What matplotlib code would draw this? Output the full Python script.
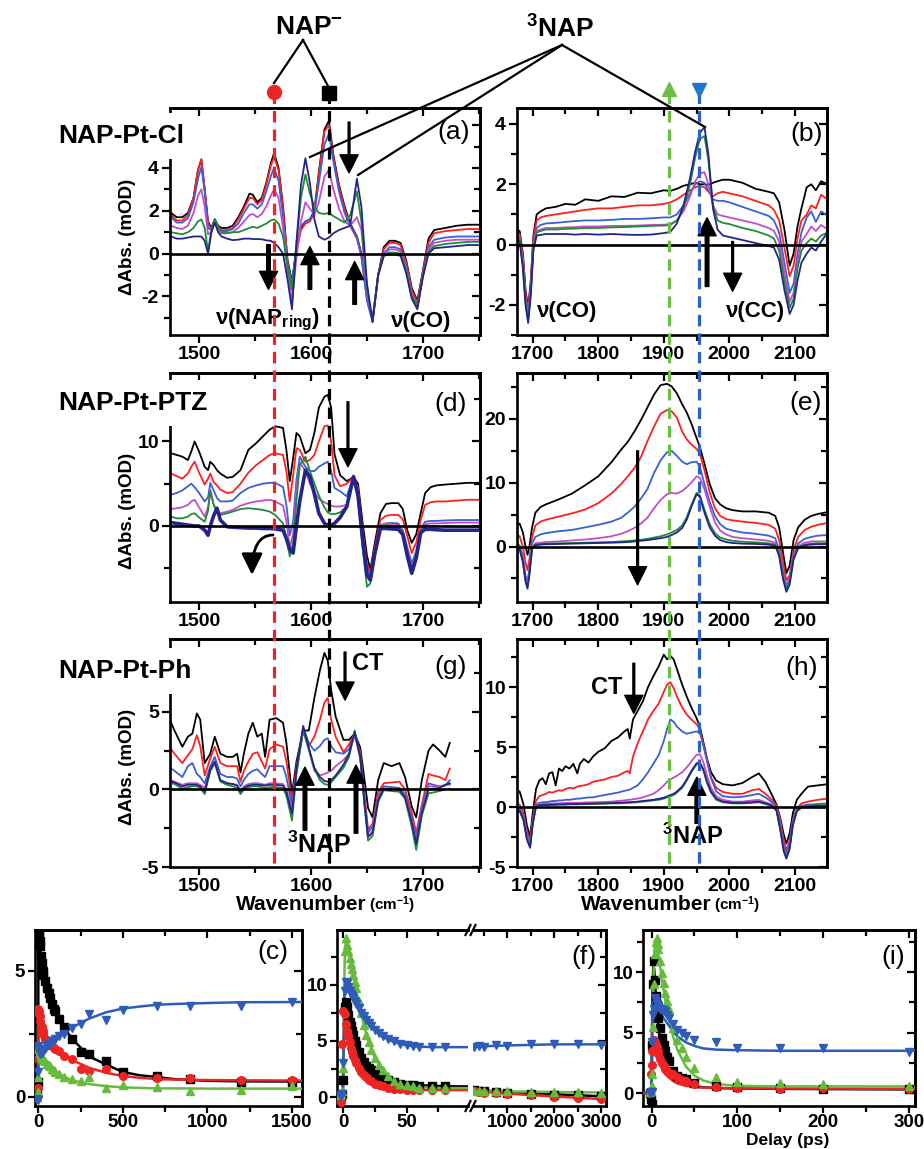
import matplotlib
matplotlib.use("Agg")
import matplotlib.pyplot as plt
from matplotlib.ticker import MultipleLocator, FixedLocator
from matplotlib.lines import Line2D
import matplotlib.transforms as mtransforms

plt.rcParams.update({
    'font.family': ['Liberation Sans', 'DejaVu Sans'],
    'font.weight': 'bold',
    'mathtext.fontset': 'custom',
    'mathtext.rm': 'Liberation Sans:bold',
    'mathtext.bf': 'Liberation Sans:bold',
    'mathtext.it': 'Liberation Sans:bold:italic',
    'mathtext.default': 'rm',
    'axes.unicode_minus': False,
})

# ---------------- spectra data ----------------
# panel (a): NAP-Pt-Cl, 1475-1750 cm-1
xa = [1475, 1480, 1485, 1490, 1495, 1499, 1502, 1505, 1508, 1511,
      1514, 1517, 1520, 1525, 1530, 1535, 1540, 1545, 1548, 1552,
      1556, 1560, 1564, 1567, 1571, 1575, 1579, 1583, 1587, 1591,
      1595, 1599, 1603, 1607, 1612, 1616, 1620, 1625, 1630, 1635,
      1641, 1645, 1650, 1655, 1660, 1665, 1670, 1675, 1680, 1685,
      1690, 1695, 1700, 1705, 1710, 1720, 1730, 1740, 1750]
a_black = [1.9, 1.7, 1.7, 1.9, 2.6, 3.9, 4.4, 3.0, 1.5, 1.2,
           1.6, 1.3, 1.2, 1.2, 1.3, 1.7, 2.2, 2.8, 2.75, 2.4,
           2.6, 3.3, 4.2, 4.7, 4.0, 2.2, -0.3, -1.3, 0.2, 1.2,
           1.5, 1.6, 2.0, 3.8, 5.8, 6.2, 4.6, 3.2, 2.2, 1.4,
           0.8, 0.0, -2.0, -3.1, -1.0, 0.3, 0.6, 0.6, 0.5, -0.3,
           -1.6, -2.2, -0.8, 0.7, 1.1, 1.2, 1.3, 1.35, 1.35]
a_red = [1.8, 1.55, 1.55, 1.8, 2.6, 3.9, 4.4, 3.0, 1.4, 1.15,
         1.55, 1.25, 1.1, 1.1, 1.2, 1.6, 2.1, 2.6, 2.6, 2.3,
         2.5, 3.2, 4.1, 4.5, 3.9, 2.1, -0.4, -1.4, 0.1, 1.1,
         1.4, 1.5, 1.9, 3.7, 5.7, 6.0, 4.5, 3.1, 2.1, 1.3,
         0.7, -0.1, -2.1, -3.1, -1.0, 0.2, 0.5, 0.5, 0.4, -0.4,
         -1.7, -2.3, -0.9, 0.5, 0.95, 1.05, 1.1, 1.15, 1.15]
a_blue = [1.7, 1.45, 1.45, 1.65, 2.4, 3.5, 4.05, 2.9, 1.2, 1.1,
          1.6, 1.2, 1.05, 1.05, 1.15, 1.4, 1.9, 2.3, 2.3, 2.1,
          2.3, 2.9, 3.6, 4.0, 3.4, 1.7, -0.5, -1.4, 0.3, 1.3,
          1.5, 1.6, 1.9, 3.3, 5.1, 5.6, 4.3, 2.9, 1.9, 1.3,
          0.8, -0.1, -2.2, -3.2, -1.0, 0.0, 0.3, 0.3, 0.2, -0.6,
          -1.9, -2.5, -1.0, 0.3, 0.65, 0.75, 0.8, 0.8, 0.8]
a_magenta = [1.3, 1.2, 1.15, 1.3, 1.9, 2.7, 3.0, 2.2, 0.9, 1.0,
             1.5, 1.1, 0.95, 0.95, 1.0, 1.2, 1.5, 1.8, 1.85, 1.7,
             1.85, 2.2, 2.7, 3.0, 2.6, 1.2, -0.8, -2.2, -0.2, 1.5,
             2.4, 2.1, 1.8, 2.4, 3.6, 3.9, 3.0, 2.1, 1.5, 1.3,
             1.7, 1.1, -1.8, -3.1, -1.0, -0.1, 0.2, 0.2, 0.1, -0.7,
             -2.0, -2.5, -1.0, 0.2, 0.5, 0.6, 0.65, 0.65, 0.65]
a_green = [1.0, 0.95, 0.9, 1.0, 1.2, 1.5, 1.6, 1.2, 0.1, 1.1,
           1.6, 1.2, 1.0, 0.95, 1.0, 1.0, 1.1, 1.2, 1.25, 1.2,
           1.3, 1.4, 1.55, 1.6, 1.4, 0.8, -0.6, -1.7, 0.5, 2.6,
           3.7, 2.8, 2.2, 1.9, 1.85, 1.9, 1.75, 1.6, 1.45, 1.8,
           2.9, 1.5, -1.6, -3.1, -1.0, -0.1, 0.05, 0.05, 0.0, -0.8,
           -2.0, -2.4, -1.0, 0.1, 0.35, 0.45, 0.5, 0.55, 0.55]
a_navy = [0.8, 0.7, 0.7, 0.75, 0.8, 0.8, 0.8, 0.6, 0.0, 1.0,
          1.45, 1.0, 0.8, 0.7, 0.63, 0.65, 0.7, 0.7, 0.68, 0.68,
          0.67, 0.62, 0.6, 0.5, 0.3, 0.0, -1.2, -2.6, 0.5, 3.2,
          4.45, 3.3, 1.6, 0.8, 0.65, 0.75, 0.95, 1.1, 1.2, 1.3,
          3.5, 2.2, -1.4, -3.2, -1.0, -0.1, -0.05, -0.05, -0.1, -0.9,
          -2.1, -2.6, -1.1, 0.0, 0.25, 0.3, 0.35, 0.4, 0.4]

# panel (b): NAP-Pt-Cl, 1675-2150 cm-1
xb = [1675, 1680, 1685, 1689, 1693, 1697, 1701, 1706, 1712, 1720,
      1735, 1750, 1765, 1780, 1800, 1820, 1840, 1860, 1880, 1900,
      1910, 1920, 1930, 1940, 1948, 1955, 1962, 1968, 1975, 1982,
      1990, 2000, 2020, 2040, 2060, 2068, 2076, 2084, 2092, 2098,
      2104, 2110, 2118, 2125, 2132, 2140, 2150]
b_black = [0.5, 0.45, -0.3, -1.5, -2.1, -1.2, 0.3, 1.0, 1.1, 1.2,
           1.25, 1.35, 1.32, 1.5, 1.45, 1.6, 1.58, 1.72, 1.7, 1.8,
           1.78, 1.85, 1.95, 2.0, 2.05, 2.0, 2.0, 1.98, 2.05, 2.1,
           2.15, 2.15, 2.05, 1.85, 1.75, 1.7, 1.4, 0.5, -0.7, -0.3,
           0.6, 1.2, 1.9, 2.0, 1.8, 2.1, 2.0]
b_red = [0.4, 0.35, -0.4, -1.6, -2.2, -1.3, 0.2, 0.8, 0.9, 0.95,
         1.0, 1.05, 1.1, 1.15, 1.2, 1.2, 1.25, 1.3, 1.3, 1.35,
         1.4, 1.5, 1.65, 1.8, 1.9, 1.95, 1.9, 1.75, 1.6, 1.7,
         1.75, 1.7, 1.6, 1.45, 1.3, 1.15, 0.8, -0.1, -1.05, -0.7,
         0.2, 0.8, 1.0, 1.3, 1.2, 1.65, 1.5]
b_blue = [0.2, 0.15, -0.6, -1.8, -2.4, -1.5, 0.0, 0.55, 0.65, 0.7,
          0.72, 0.75, 0.78, 0.8, 0.8, 0.82, 0.85, 0.85, 0.87, 0.9,
          0.9, 1.0, 1.3, 1.7, 2.0, 2.1, 2.05, 1.8, 1.5, 1.45,
          1.45, 1.4, 1.25, 1.1, 0.95, 0.8, 0.4, -0.6, -1.6, -1.3,
          -0.3, 0.4, 0.9, 1.1, 0.75, 1.1, 0.95]
b_magenta = [0.3, 0.25, -0.6, -1.8, -2.4, -1.5, 0.0, 0.45, 0.5, 0.55,
             0.55, 0.57, 0.58, 0.6, 0.6, 0.62, 0.62, 0.63, 0.65, 0.66,
             0.68, 0.8, 1.1, 1.6, 2.1, 2.35, 2.4, 2.0, 1.3, 1.0,
             0.95, 0.9, 0.8, 0.7, 0.55, 0.45, 0.1, -0.9, -1.9, -1.6,
             -0.6, 0.1, 0.35, 0.6, 0.45, 0.65, 0.5]
b_green = [0.25, 0.2, -0.7, -1.9, -2.5, -1.6, -0.1, 0.4, 0.45, 0.5,
           0.5, 0.52, 0.53, 0.55, 0.55, 0.57, 0.58, 0.6, 0.62, 0.63,
           0.65, 0.8, 1.2, 2.0, 2.9, 3.5, 3.6, 2.8, 1.3, 0.8,
           0.72, 0.68, 0.55, 0.45, 0.3, 0.2, -0.2, -1.2, -2.1, -1.8,
           -0.8, -0.2, 0.05, 0.2, 0.1, 0.3, 0.4]
b_navy = [0.15, 0.1, -0.8, -2.0, -2.6, -1.7, -0.2, 0.3, 0.32, 0.35,
          0.35, 0.35, 0.33, 0.35, 0.33, 0.35, 0.33, 0.32, 0.33, 0.38,
          0.42, 0.7, 1.3, 2.2, 3.1, 3.7, 3.9, 3.0, 1.2, 0.5,
          0.3, 0.25, 0.15, 0.05, -0.05, -0.1, -0.5, -1.5, -2.3, -2.0,
          -1.2, -0.6, -0.3, -0.1, -0.2, 0.1, 0.4]

# panel (d): NAP-Pt-PTZ, 1475-1750 cm-1
xd = [1475, 1480, 1485, 1490, 1493, 1496, 1500, 1505, 1508, 1510,
      1513, 1516, 1519, 1525, 1530, 1537, 1544, 1551, 1557, 1563,
      1568, 1575, 1578, 1581, 1584, 1587, 1590, 1595, 1599, 1603,
      1607, 1612, 1615, 1618, 1621, 1626, 1632, 1638, 1642, 1646,
      1650, 1653, 1657, 1662, 1667, 1672, 1678, 1682, 1686, 1690,
      1694, 1698, 1702, 1707, 1712, 1720, 1730, 1740, 1750]
d_black = [8.6, 8.4, 8.2, 7.8, 8.8, 10.0, 8.8, 7.0, 6.6, 7.6,
           7.2, 6.6, 6.2, 5.7, 5.8, 6.6, 9.0, 9.8, 10.6, 11.4,
           11.8, 11.6, 9.0, 5.3, 8.0, 11.0, 10.6, 8.6, 9.0, 11.0,
           14.0, 15.3, 15.5, 14.0, 8.5, 6.0, 5.3, 5.8, 5.0, 0.5,
           -3.5, -5.2, -2.0, 1.5, 2.6, 2.7, 2.7, 2.0, -0.5, -2.0,
           -1.0, 1.5, 3.9, 4.6, 4.8, 4.9, 5.0, 5.1, 5.1]
d_red = [6.2, 5.9, 5.6, 6.2, 7.0, 7.6, 6.3, 4.9, 5.6, 6.2,
         5.2, 4.8, 4.3, 3.9, 4.0, 5.0, 6.3, 7.2, 7.8, 8.4,
         8.6, 8.4, 6.5, 2.9, 6.0, 9.2, 9.0, 7.6, 7.8, 8.4,
         10.0, 11.8, 11.9, 10.0, 6.0, 4.7, 5.0, 5.85, 4.5, -0.5,
         -4.5, -5.6, -2.5, 0.7, 1.2, 1.3, 1.3, 0.8, -1.2, -3.2,
         -2.0, 0.7, 2.5, 2.8, 2.9, 2.9, 3.0, 3.1, 3.1]
d_blue = [3.7, 3.9, 4.2, 4.7, 5.0, 4.6, 3.9, 2.9, 3.4, 5.1,
          4.2, 3.3, 2.9, 2.9, 3.0, 3.9, 4.5, 4.8, 5.0, 5.1,
          5.1, 4.6, 2.5, -1.1, 0.5, 5.5, 8.2, 7.0, 6.5, 6.5,
          7.0, 7.4, 7.6, 6.5, 4.5, 4.1, 3.5, 5.85, 4.2, -1.0,
          -5.0, -6.0, -3.0, 0.1, 0.3, 0.35, 0.3, -0.5, -2.5, -4.4,
          -3.0, -0.3, 0.5, 0.6, 0.6, 0.65, 0.7, 0.7, 0.7]
d_magenta = [2.0, 2.1, 2.2, 2.5, 2.9, 3.1, 2.2, 1.1, 2.2, 4.3,
             2.6, 1.7, 1.5, 1.7, 1.9, 2.4, 2.7, 2.9, 3.0, 3.1,
             2.9, 2.4, 0.5, -2.5, -1.0, 4.5, 7.5, 6.5, 5.0, 4.0,
             3.2, 2.8, 2.6, 2.4, 2.3, 2.3, 2.5, 5.85, 4.0, -1.5,
             -5.5, -6.4, -3.2, 0.0, 0.3, 0.2, 0.1, -0.6, -2.8, -4.8,
             -3.2, -0.4, 0.2, 0.3, 0.3, 0.35, 0.4, 0.4, 0.4]
d_green = [1.1, 0.9, 0.9, 1.1, 1.4, 1.5, 1.0, 0.5, 1.8, 4.1,
           2.5, 1.5, 1.3, 1.5, 1.7, 2.0, 2.1, 2.0, 1.9, 1.7,
           1.3, 0.3, -1.5, -3.6, -2.0, 3.0, 7.2, 8.2, 6.5, 5.0,
           3.6, 2.2, 1.6, 1.4, 1.4, 1.6, 2.3, 5.85, 3.5, -2.5,
           -7.2, -6.8, -3.5, -0.2, 0.1, 0.0, -0.1, -0.8, -3.0, -5.0,
           -3.4, -0.6, 0.0, 0.0, 0.0, -0.05, -0.1, -0.1, -0.1]
d_navy = [0.4, 0.3, 0.2, 0.1, 0.05, 0.0, 0.0, -0.5, -1.1, 0.0,
          1.2, 2.1, 0.7, -0.1, -0.15, -0.2, -0.25, -0.25, -0.3, -0.3,
          -0.35, -0.5, -1.5, -2.8, -3.2, 0.0, 3.0, 6.6, 5.8, 3.8,
          1.5, 0.3, 0.1, 0.1, 0.3, 1.0, 2.3, 5.85, 3.6, -1.5,
          -5.8, -6.4, -3.3, -0.3, -0.3, -0.35, -0.4, -1.0, -3.5, -5.6,
          -3.8, -0.8, -0.4, -0.4, -0.45, -0.5, -0.5, -0.5, -0.5]

# panel (e): NAP-Pt-PTZ, 1675-2150 cm-1
xe = [1675, 1680, 1685, 1689, 1692, 1695, 1699, 1704, 1712, 1720,
      1740, 1760, 1780, 1800, 1820, 1835, 1845, 1855, 1865, 1875,
      1885, 1895, 1905, 1912, 1920, 1928, 1935, 1942, 1950, 1955,
      1962, 1970, 1978, 1986, 1995, 2005, 2020, 2040, 2060, 2070,
      2076, 2082, 2087, 2092, 2098, 2105, 2115, 2125, 2135, 2150]
e_black = [3.4, 3.6, 2.2, 0.0, -1.3, 0.0, 3.0, 5.3, 6.2, 6.6,
           7.4, 8.3, 9.6, 11.0, 13.2, 15.2, 16.4, 18.0, 19.8, 21.8,
           23.8, 25.3, 25.5, 25.1, 24.0, 22.3, 21.0, 19.3, 17.0, 15.6,
           13.0, 9.8, 7.6, 6.6, 6.0, 5.7, 5.5, 5.5, 5.3, 4.8,
           3.0, -1.0, -4.2, -3.0, 1.0, 3.0, 4.2, 4.8, 5.1, 5.4]
e_red = [1.8, 1.6, 0.0, -2.5, -3.7, -2.0, 1.5, 3.3, 3.9, 4.2,
         4.7, 5.2, 5.8, 6.8, 8.3, 9.8, 11.0, 12.3, 14.0, 16.5,
         18.8, 20.8, 21.4, 21.2, 20.2, 18.0, 16.8, 16.0, 15.3, 14.5,
         12.0, 8.5, 6.0, 4.8, 4.3, 4.1, 3.9, 3.7, 3.4, 2.8,
         1.0, -2.5, -5.3, -4.5, -0.5, 1.5, 2.6, 3.1, 3.4, 3.7]
e_blue = [0.5, 0.2, -1.5, -4.5, -5.5, -3.5, 0.5, 1.5, 1.9, 2.1,
          2.4, 2.6, 3.0, 3.4, 3.9, 4.5, 5.3, 6.2, 7.5, 9.0,
          11.5, 13.5, 14.8, 15.0, 14.2, 13.3, 12.9, 13.2, 13.3, 12.5,
          9.8, 7.0, 4.8, 3.5, 2.8, 2.5, 2.2, 2.0, 1.7, 1.3,
          -0.5, -4.0, -6.1, -5.0, -1.2, 0.5, 1.2, 1.5, 1.7, 1.8]
e_magenta = [0.4, 0.0, -2.0, -5.0, -6.0, -4.0, 0.0, 0.5, 0.6, 0.7,
             0.8, 0.95, 1.1, 1.3, 1.6, 2.0, 2.4, 2.9, 3.6, 4.5,
             6.0, 7.3, 8.2, 8.4, 8.3, 8.7, 9.3, 10.0, 11.0, 10.8,
             9.0, 6.2, 3.8, 2.5, 1.9, 1.5, 1.3, 1.1, 0.9, 0.6,
             -1.0, -4.5, -6.3, -5.3, -1.5, 0.1, 0.6, 0.8, 0.8, 0.8]
e_green = [0.3, -0.1, -2.2, -5.3, -6.3, -4.2, -0.2, 0.3, 0.4, 0.45,
           0.5, 0.55, 0.6, 0.65, 0.7, 0.8, 0.85, 0.95, 1.05, 1.2,
           1.4, 1.6, 1.9, 2.2, 2.6, 3.3, 4.6, 6.5, 8.4, 8.0,
           5.8, 3.5, 2.1, 1.4, 1.1, 0.9, 0.75, 0.65, 0.5, 0.3,
           -1.2, -4.8, -6.6, -5.5, -1.8, -0.1, 0.3, 0.45, 0.5, 0.5]
e_navy = [-0.3, -0.5, -2.5, -5.5, -6.6, -4.4, -0.4, 0.2, 0.3, 0.35,
          0.4, 0.45, 0.5, 0.55, 0.6, 0.65, 0.7, 0.8, 0.9, 1.0,
          1.15, 1.3, 1.5, 1.8, 2.2, 2.9, 4.2, 6.2, 8.2, 7.8,
          5.3, 3.0, 1.7, 1.0, 0.7, 0.55, 0.45, 0.4, 0.3, 0.1,
          -1.5, -5.2, -7.1, -6.0, -2.0, -0.3, 0.2, 0.3, 0.35, 0.4]

# panel (g): NAP-Pt-Ph, 1475-1725 cm-1
xg = [1475, 1478, 1485, 1490, 1494, 1498, 1501, 1505, 1510, 1514,
      1519, 1525, 1530, 1534, 1537, 1540, 1544, 1548, 1552, 1556,
      1559, 1563, 1569, 1575, 1578, 1583, 1587, 1593, 1598, 1603,
      1608, 1612, 1615, 1618, 1622, 1629, 1634, 1639, 1644, 1648,
      1651, 1655, 1660, 1665, 1672, 1679, 1684, 1690, 1694, 1699,
      1705, 1709, 1715, 1720, 1724]
g_black = [4.3, 3.8, 2.75, 3.4, 3.6, 4.9, 4.5, 1.7, 2.3, 3.4,
           2.3, 2.1, 2.1, 2.3, 1.1, 2.3, 3.6, 4.3, 3.4, 3.6,
           2.1, 4.5, 4.6, 4.3, 3.0, -0.3, 1.8, 3.8, 3.8, 5.9,
           7.7, 8.8, 8.3, 6.4, 4.7, 3.2, 3.2, 3.6, 2.7, 0.5,
           -1.2, -1.8, 0.6, 1.7, 1.5, 1.7, 0.8, -1.1, -1.8, 0.6,
           2.5, 2.9, 2.5, 2.1, 3.0]
g_red = [2.6, 2.3, 1.7, 2.2, 2.6, 3.5, 2.8, 0.9, 2.0, 2.75,
         1.7, 1.5, 1.5, 1.5, 0.5, 1.2, 1.8, 2.3, 2.4, 1.8,
         1.35, 2.6, 2.9, 2.75, 1.8, -0.7, 1.5, 3.8, 2.8, 3.4,
         4.5, 5.6, 5.9, 4.5, 3.4, 2.4, 2.9, 3.6, 2.4, -0.5,
         -2.6, -2.2, -0.2, 0.4, 0.45, 0.5, 0.0, -1.5, -2.8, -1.0,
         1.0, 0.9, 0.8, 0.6, 1.35]
g_blue = [1.35, 1.2, 0.8, 1.5, 1.7, 1.0, 0.8, 0.4, 1.5, 2.1,
          1.0, 0.8, 0.8, 0.7, 0.2, 0.6, 1.0, 1.2, 1.3, 1.0,
          0.8, 1.5, 1.5, 1.5, 0.8, -1.1, 1.2, 4.0, 3.0, 2.5,
          2.8, 3.2, 3.3, 2.8, 2.4, 2.3, 2.6, 3.6, 2.2, -0.8,
          -2.8, -2.4, -0.5, 0.2, 0.15, 0.1, -0.3, -1.8, -3.1, -1.2,
          0.4, 0.3, 0.2, 0.25, 0.6]
g_magenta = [0.6, 0.5, 0.3, 0.4, 0.4, 0.4, 0.3, 0.1, 1.2, 1.7,
             0.6, 0.4, 0.35, 0.3, -0.1, 0.2, 0.35, 0.4, 0.4, 0.35,
             0.3, 0.4, 0.4, 0.35, 0.0, -1.3, 1.2, 3.8, 2.6, 1.2,
             0.9, 1.0, 1.1, 1.2, 1.5, 1.9, 2.3, 3.5, 2.0, -1.0,
             -3.05, -2.7, -0.6, 0.05, 0.05, 0.05, -0.4, -2.0, -3.3, -1.4,
             0.2, 0.2, 0.2, 0.3, 0.3]
g_green = [0.4, 0.35, 0.05, 0.15, 0.2, 0.2, 0.1, -0.3, 1.2, 1.7,
           0.5, 0.3, 0.2, 0.1, -0.3, 0.0, 0.15, 0.2, 0.2, 0.15,
           0.1, 0.15, 0.15, 0.1, -0.4, -2.0, 1.0, 3.8, 2.6, 1.3,
           0.6, 0.35, 0.3, 0.45, 0.8, 1.4, 2.1, 3.8, 2.1, -1.2,
           -3.3, -3.0, -0.8, -0.05, -0.1, -0.15, -0.6, -2.4, -3.9, -1.7,
           -0.25, -0.2, -0.1, 0.0, 0.05]
g_navy = [0.5, 0.45, 0.2, 0.3, 0.3, 0.3, 0.2, -0.15, 1.3, 1.8,
          0.6, 0.4, 0.35, 0.25, -0.15, 0.1, 0.25, 0.3, 0.3, 0.28,
          0.25, 0.3, 0.3, 0.25, -0.2, -1.55, 1.3, 4.1, 2.7, 1.4,
          0.8, 0.55, 0.5, 0.6, 0.9, 1.6, 2.3, 3.7, 2.1, -1.0,
          -3.05, -2.8, -0.7, 0.05, 0.0, 0.0, -0.5, -2.1, -3.5, -1.5,
          0.0, 0.05, 0.1, 0.3, 0.4]

# panel (h): NAP-Pt-Ph, 1675-2150 cm-1
xh = [1675, 1680, 1686, 1691, 1696, 1700, 1705, 1710, 1715, 1720,
      1725, 1730, 1735, 1740, 1745, 1750, 1756, 1762, 1768, 1772,
      1778, 1785, 1792, 1800, 1810, 1820, 1830, 1840, 1845, 1848,
      1853, 1860, 1868, 1876, 1884, 1892, 1900, 1905, 1910, 1915,
      1920, 1928, 1935, 1942, 1950, 1955, 1960, 1966, 1972, 1980,
      1990, 2005, 2020, 2035, 2045, 2055, 2065, 2072, 2078, 2083,
      2087, 2092, 2097, 2103, 2110, 2120, 2135, 2150]
h_black = [1.4, 1.3, 0.2, -1.5, -2.5, -0.5, 1.5, 2.2, 2.4, 1.9,
           2.8, 2.9, 1.8, 3.2, 3.0, 3.4, 3.2, 3.6, 2.8, 3.6,
           4.0, 3.7, 4.2, 4.6, 4.9, 5.5, 5.8, 6.3, 6.5, 5.7,
           7.3, 8.0, 8.8, 10.0, 10.9, 11.7, 12.7, 12.3, 12.6, 12.3,
           11.5, 10.2, 9.2, 8.3, 7.4, 6.7, 5.5, 4.0, 2.9, 2.2,
           1.9, 1.8, 2.0, 2.5, 2.8, 2.1, 1.0, 0.2, -1.0, -2.3,
           -3.05, -2.2, -0.5, 0.6, 1.1, 1.7, 1.8, 1.9]
h_red = [0.3, 0.2, -0.5, -2.0, -2.8, -1.0, 0.5, 0.9, 1.0, 1.1,
         1.25, 1.2, 1.3, 1.4, 1.35, 1.5, 1.6, 1.55, 1.7, 1.75,
         1.8, 1.9, 2.1, 2.2, 2.3, 2.5, 2.6, 2.9, 3.0, 2.8,
         4.2, 5.3, 6.3, 7.3, 8.0, 8.6, 9.6, 10.2, 10.4, 9.9,
         9.2, 8.3, 7.7, 7.3, 6.9, 6.5, 5.3, 3.9, 2.5, 1.6,
         1.25, 1.1, 1.1, 1.4, 1.5, 1.1, 0.6, 0.1, -1.2, -2.8,
         -3.6, -2.8, -1.0, -0.1, 0.3, 0.45, 0.6, 0.7]
h_blue = [0.0, -0.1, -0.8, -2.3, -3.05, -1.2, 0.2, 0.35, 0.4, 0.4,
          0.45, 0.5, 0.5, 0.55, 0.55, 0.6, 0.6, 0.65, 0.7, 0.7,
          0.75, 0.8, 0.8, 0.9, 1.0, 1.1, 1.2, 1.35, 1.4, 1.45,
          1.6, 1.8, 2.3, 2.9, 3.6, 4.3, 5.5, 6.5, 7.3, 7.1,
          6.7, 6.3, 6.1, 6.2, 6.3, 6.2, 5.2, 3.8, 2.4, 1.3,
          0.9, 0.8, 0.85, 1.0, 1.1, 0.8, 0.4, 0.0, -1.5, -3.2,
          -3.9, -3.0, -1.1, -0.2, 0.1, 0.2, 0.25, 0.3]
h_magenta = [-0.15, -0.25, -1.0, -2.5, -3.2, -1.3, 0.1, 0.2, 0.25, 0.25,
             0.3, 0.3, 0.3, 0.3, 0.32, 0.33, 0.35, 0.35, 0.35, 0.35,
             0.37, 0.38, 0.4, 0.4, 0.42, 0.45, 0.5, 0.55, 0.6, 0.6,
             0.65, 0.7, 0.8, 0.95, 1.1, 1.4, 1.8, 2.1, 2.3, 2.45,
             2.6, 2.9, 3.3, 3.8, 4.35, 4.4, 3.8, 2.6, 1.6, 0.9,
             0.6, 0.45, 0.45, 0.55, 0.6, 0.4, 0.2, -0.2, -1.8, -3.5,
             -4.2, -3.3, -1.3, -0.3, -0.05, 0.0, 0.0, 0.05]
h_green = [-0.3, -0.35, -1.1, -2.6, -3.3, -1.4, 0.05, 0.12, 0.15, 0.15,
           0.15, 0.18, 0.18, 0.2, 0.2, 0.2, 0.22, 0.22, 0.22, 0.23,
           0.23, 0.25, 0.25, 0.27, 0.28, 0.3, 0.3, 0.33, 0.35, 0.35,
           0.37, 0.4, 0.45, 0.5, 0.55, 0.6, 0.7, 0.8, 0.9, 1.0,
           1.2, 1.6, 2.2, 2.9, 3.55, 3.6, 3.1, 2.0, 1.2, 0.6,
           0.4, 0.3, 0.3, 0.35, 0.4, 0.25, 0.1, -0.3, -1.9, -3.6,
           -4.2, -3.4, -1.4, -0.3, 0.0, 0.1, 0.15, 0.15]
h_navy = [-0.2, -0.3, -1.1, -2.7, -3.4, -1.4, 0.05, 0.15, 0.18, 0.18,
          0.2, 0.2, 0.2, 0.22, 0.22, 0.23, 0.24, 0.25, 0.25, 0.26,
          0.27, 0.28, 0.28, 0.3, 0.31, 0.33, 0.35, 0.38, 0.4, 0.4,
          0.42, 0.45, 0.5, 0.55, 0.6, 0.68, 0.78, 0.88, 1.0, 1.1,
          1.3, 1.7, 2.3, 3.0, 3.65, 3.7, 3.2, 2.1, 1.3, 0.7,
          0.45, 0.35, 0.35, 0.4, 0.45, 0.3, 0.12, -0.3, -2.0, -3.7,
          -4.3, -3.5, -1.5, -0.35, -0.05, 0.05, 0.1, 0.1]

# ---------------- kinetics data ----------------
# (c) NAP-Pt-Cl kinetics (ps)
tc = [-10, -5, -2, 0, 2, 5, 8, 10, 15, 20, 25, 30, 40, 50, 60, 70, 80, 90, 100,
      120, 150, 200, 250, 300, 400, 500, 700, 900, 1200, 1500]
c_black = [0.1, 0.6, 3.0, 6.5, 6.6, 6.4, 6.2, 6.0, 5.6, 5.3, 5.0, 4.85, 4.6, 4.3, 4.1,
           3.9, 3.7, 3.5, 3.4, 3.1, 2.75, 2.3, 1.78, 1.68, 1.42, 0.99, 0.82, 0.7, 0.6, 0.6]
c_red = [0.0, 0.35, 1.5, 3.5, 3.4, 3.3, 3.2, 3.0, 2.85, 2.75, 2.6, 2.5, 2.3, 2.25, 2.15,
         2.05, 2.0, 1.95, 1.9, 1.8, 1.62, 1.49, 1.09, 1.03, 1.09, 0.83, 0.76, 0.76, 0.66, 0.66]
c_green = [0.0, 0.2, 0.8, 1.9, 2.0, 1.9, 1.8, 1.75, 1.6, 1.55, 1.5, 1.45, 1.4, 1.3, 1.25,
           1.2, 1.1, 1.05, 1.0, 0.9, 0.77, 0.7, 0.63, 0.77, 0.34, 0.47, 0.37, 0.24, 0.26, 0.43]
c_blue = [-0.1, -0.15, 1.0, 2.0, 1.9, 1.8, 1.75, 1.7, 1.8, 1.75, 1.85, 1.85, 1.9, 2.0, 2.05,
          2.1, 2.2, 2.2, 2.3, 2.4, 2.5, 2.74, 2.87, 3.29, 3.04, 3.46, 3.59, 3.62, 3.59, 3.75]
tc_fit = [-20, -1, 0, 10, 20, 40, 60, 80, 100, 150, 200, 300, 400, 500, 600, 700, 800,
          1000, 1200, 1560]
cf_black = [0, 0, 6.6, 5.9, 5.35, 4.6, 4.1, 3.7, 3.35, 2.75, 2.3, 1.6, 1.28, 0.98, 0.85,
            0.78, 0.7, 0.63, 0.61, 0.6]
cf_red = [0, 0, 3.5, 2.9, 2.6, 2.3, 2.15, 2.0, 1.9, 1.65, 1.45, 1.15, 0.95, 0.82, 0.75,
          0.7, 0.68, 0.66, 0.65, 0.64]
cf_green = [0, 0, 1.9, 1.75, 1.6, 1.4, 1.25, 1.1, 1.0, 0.8, 0.65, 0.5, 0.42, 0.37, 0.35,
            0.33, 0.33, 0.32, 0.32, 0.32]
cf_blue = [0, 0, 2.0, 1.75, 1.8, 1.95, 2.05, 2.15, 2.25, 2.5, 2.75, 3.1, 3.35, 3.5, 3.58,
           3.65, 3.68, 3.72, 3.75, 3.76]

# (f) NAP-Pt-PTZ kinetics, broken time axis
tf = [-3, -2, -1, 0, 1, 2, 3, 4, 5, 6, 7, 8, 9, 10, 12, 14, 16, 18, 20, 22, 25, 28, 31,
      35, 40, 45, 50, 55, 60, 70, 80]
f_green = [0.2, 0.3, 0.5, 2.6, 13.0, 14.2, 13.6, 13.0, 12.4, 11.9, 11.4, 10.9, 10.3, 9.7,
           8.6, 7.5, 6.4, 5.5, 4.9, 4.2, 3.5, 2.9, 2.4, 1.9, 1.45, 1.2, 1.1, 0.95, 0.85,
           0.82, 0.82]
f_blue = [0.2, 0.1, 0.3, 3.0, 9.5, 10.3, 10.2, 9.8, 9.5, 9.2, 9.0, 8.8, 8.6, 8.3, 7.9,
          7.5, 7.2, 6.9, 6.6, 6.3, 6.0, 5.7, 5.4, 5.2, 5.0, 4.75, 4.6, 4.55, 4.5, 4.5, 4.45]
f_black = [0.2, 0.1, 0.3, 1.5, 8.0, 8.5, 8.0, 7.3, 6.7, 6.3, 5.9, 5.5, 5.0, 4.6, 4.0,
           3.5, 3.1, 2.8, 2.6, 2.4, 2.1, 1.9, 1.75, 1.55, 1.35, 1.2, 1.1, 1.05, 1.0, 1.0, 0.95]
f_red = [0.2, -0.4, 4.7, 7.7, 7.4, 6.5, 5.9, 5.4, 4.9, 4.4, 4.0, 3.7, 3.3, 3.0, 2.6, 2.2,
         1.95, 1.75, 1.55, 1.4, 1.2, 1.05, 0.95, 0.85, 0.75, 0.7, 0.65, 0.62, 0.6, 0.6, 0.6]
tf_fit = [-5, -0.5, 0, 1, 2, 3, 5, 7, 10, 13, 16, 20, 25, 30, 35, 40, 50, 60, 70, 80, 90, 100]
ff_green = [0, 0, 3, 12, 14.2, 13.8, 12.6, 11.4, 9.6, 8.0, 6.5, 4.9, 3.5, 2.6, 1.95, 1.5,
            1.05, 0.88, 0.82, 0.8, 0.8, 0.8]
ff_blue = [0, 0, 3, 9.8, 10.3, 10.1, 9.6, 9.1, 8.4, 7.8, 7.2, 6.6, 6.0, 5.5, 5.15, 4.9,
           4.6, 4.5, 4.45, 4.45, 4.45, 4.45]
ff_black = [0, 0, 2, 7.8, 8.5, 8.0, 6.9, 5.9, 4.6, 3.7, 3.1, 2.5, 2.0, 1.7, 1.5, 1.35,
            1.15, 1.05, 1.0, 0.97, 0.95, 0.95]
ff_red = [0, 0, 3, 7.5, 7.4, 6.6, 5.0, 4.0, 2.95, 2.3, 1.85, 1.45, 1.1, 0.9, 0.78, 0.72,
          0.66, 0.63, 0.62, 0.62, 0.62, 0.62]
tf_long = [300, 400, 500, 750, 1000, 1500, 2000, 2500, 3000]
fl_green = [0.55, 0.55, 0.5, 0.5, 0.5, 0.48, 0.45, 0.42, 0.4]
fl_blue = [4.5, 4.55, 4.5, 4.6, 4.55, 4.7, 4.7, 4.7, 4.6]
fl_black = [0.6, 0.55, 0.5, 0.45, 0.4, 0.3, 0.2, 0.15, 0.1]
fl_red = [0.5, 0.45, 0.4, 0.35, 0.3, 0.15, 0.0, -0.1, -0.2]
tf_long_fit = [270, 1000, 2000, 3106]
flf_green = [0.55, 0.5, 0.45, 0.4]
flf_blue = [4.5, 4.6, 4.7, 4.7]
flf_black = [0.65, 0.45, 0.25, 0.05]
flf_red = [0.55, 0.3, 0.05, -0.2]

# (i) NAP-Pt-Ph kinetics
ti = [-2, -1, 0, 1, 2, 3, 4, 5, 6, 7, 8, 10, 12, 14, 16, 18, 20, 25, 30, 35, 40, 50, 75,
      100, 150, 200, 300]
i_green = [0.1, 0.2, 0.6, 1.6, 5.5, 9.0, 11.5, 12.5, 12.8, 12.3, 11.9, 10.9, 9.9, 9.1,
           8.3, 7.6, 7.0, 5.4, 4.4, 3.7, 3.0, 2.1, 1.34, 0.88, 0.82, 0.74, 0.6]
i_black = [0.0, -0.5, -0.9, 4.0, 9.0, 10.9, 9.4, 8.0, 7.3, 6.7, 6.2, 5.4, 4.6, 4.0, 3.5,
           3.0, 2.65, 1.83, 1.42, 1.25, 1.15, 0.8, 0.6, 0.5, 0.4, 0.36, 0.3]
i_red = [0.0, 1.56, 2.3, 3.5, 4.3, 4.4, 4.2, 4.0, 3.8, 3.5, 3.2, 2.8, 2.5, 2.2, 2.0, 1.85,
         1.7, 1.56, 1.34, 1.1, 0.96, 0.74, 0.47, 0.4, 0.33, 0.4, 0.3]
i_blue = [0.0, 0.05, 0.05, 4.2, 6.5, 7.0, 7.9, 7.6, 7.4, 7.2, 7.1, 7.0, 6.9, 6.9, 6.7,
          6.5, 6.2, 5.7, 5.26, 4.95, 4.7, 4.4, 4.2, 3.7, 3.7, 3.7, 3.43]
ti_fit = [-10, -0.5, 0, 1, 2, 3, 4, 5, 6, 8, 10, 13, 16, 20, 25, 30, 40, 50, 60, 75, 100,
          150, 200, 307]
if_green = [0, 0, 0.5, 5, 9, 11.5, 12.4, 12.6, 12.4, 11.5, 10.5, 9.0, 7.7, 6.2, 4.7, 3.6,
            2.2, 1.45, 1.05, 0.75, 0.6, 0.55, 0.55, 0.55]
if_black = [0, 0, 2, 8, 10.5, 10.3, 9.2, 8.0, 7.0, 5.5, 4.4, 3.3, 2.5, 1.8, 1.3, 1.0, 0.7,
            0.55, 0.48, 0.42, 0.38, 0.35, 0.33, 0.3]
if_red = [0, 0, 1, 3.5, 4.3, 4.2, 3.9, 3.6, 3.3, 2.8, 2.4, 1.95, 1.6, 1.3, 1.0, 0.8, 0.6,
          0.5, 0.45, 0.42, 0.4, 0.38, 0.37, 0.35]
if_blue = [0, 0, 2, 6.5, 7.5, 7.3, 7.1, 7.0, 6.95, 6.8, 6.6, 6.3, 6.0, 5.6, 5.1, 4.7, 4.2,
           3.9, 3.7, 3.6, 3.55, 3.5, 3.5, 3.5]

# marker wavenumbers (dashed guide lines)
nap_anion_bands = [1567, 1616]
triplet_bands = [1908, 1954]

# ---------------- styling ----------------
BLACK = '#000000'
RED = '#ff1f1f'
BLUE = '#3a5fd6'
MAG = '#c64cc6'
GREEN = '#1e8c34'
NAVY = '#24248c'
K_RED = '#ee2424'
K_GREEN = '#66bb3c'
K_BLUE = '#2e5cb8'
SPEC_COLORS = [BLACK, RED, BLUE, MAG, GREEN, NAVY]

W, H = 924, 1149
fig = plt.figure(figsize=(W / 100, H / 100), dpi=100)


def pos(l, t, r, b):
    return [l / W, 1 - b / H, (r - l) / W, (b - t) / H]


def style(ax, xlim, ylim, xmaj, xmin, ymaj, ymin, top=True, right=True, left=True,
          yticks=None, labelsize=14, pad=2, majlen=6):
    ax.set_xlim(*xlim)
    ax.set_ylim(*ylim)
    ax.xaxis.set_major_locator(MultipleLocator(xmaj))
    ax.xaxis.set_minor_locator(MultipleLocator(xmin))
    if yticks is None:
        ax.yaxis.set_major_locator(MultipleLocator(ymaj))
    else:
        ax.yaxis.set_major_locator(FixedLocator(yticks))
    ax.yaxis.set_minor_locator(MultipleLocator(ymin))
    ax.tick_params(which='both', direction='out', width=1.6, labelsize=labelsize,
                   top=False, right=False, pad=2)
    ax.tick_params(axis='x', which='both', pad=pad)
    ax.tick_params(which='major', length=majlen)
    ax.tick_params(which='minor', length=4)
    for s in ax.spines.values():
        s.set_linewidth(1.9)
    if not left:
        ax.spines['left'].set_visible(False)
        ax.tick_params(which='both', left=False, labelleft=False)
    if not right:
        ax.spines['right'].set_visible(False)
    if top:
        sx = ax.secondary_xaxis('top')
        sx.xaxis.set_major_locator(MultipleLocator(xmaj))
        sx.xaxis.set_minor_locator(MultipleLocator(xmin))
        sx.tick_params(which='both', direction='in', width=1.6, labeltop=False)
        sx.tick_params(which='major', length=6)
        sx.tick_params(which='minor', length=4)
        sx.spines['top'].set_linewidth(1.9)
    if right:
        sy = ax.secondary_yaxis('right')
        sy.yaxis.set_major_locator(MultipleLocator(ymaj))
        sy.yaxis.set_minor_locator(MultipleLocator(ymin))
        sy.tick_params(which='both', direction='in', width=1.6, labelright=False)
        sy.tick_params(which='major', length=6)
        sy.tick_params(which='minor', length=4)
        sy.spines['right'].set_linewidth(1.9)


def plot_spec(ax, x, ys, lws=None):
    for k, (y, c) in enumerate(zip(ys, SPEC_COLORS)):
        lw = 1.3 if lws is None else lws[k]
        ax.plot(x, y, color=c, lw=lw)
    ax.axhline(0, color='k', lw=1.9, zorder=3)


def panel_label(ax, txt, xf, yf):
    ax.text(xf, yf, txt, transform=ax.transAxes, ha='right', va='center',
            fontsize=19, fontweight='normal')


def arrow(ax, x, y0, y1, thick=True):
    ax.annotate('', xy=(x, y1), xytext=(x, y0),
                arrowprops=dict(facecolor='k', edgecolor='k',
                                width=2.6 if thick else 1.3,
                                headwidth=13, headlength=13, shrink=0),
                zorder=6)


ax_a = fig.add_axes(pos(170, 108, 480, 335))
ax_b = fig.add_axes(pos(517, 108, 827, 335))
ax_d = fig.add_axes(pos(170, 373, 480, 602))
ax_e = fig.add_axes(pos(517, 373, 827, 602))
ax_g = fig.add_axes(pos(170, 639, 480, 867))
ax_h = fig.add_axes(pos(517, 639, 827, 867))
KT, KB = 930, 1106
ax_c = fig.add_axes(pos(35, KT, 302, KB))
ax_f1 = fig.add_axes(pos(337, KT, 468, KB))
ax_f2 = fig.add_axes(pos(473, KT, 606, KB))
ax_i = fig.add_axes(pos(643, KT, 915, KB))

# ---- spectra ----
plot_spec(ax_a, xa, [a_black, a_red, a_blue, a_magenta, a_green, a_navy])
style(ax_a, (1474, 1751), (-3.8, 6.8), 100, 50, 2, 1, yticks=[-2, 0, 2, 4])
plot_spec(ax_b, xb, [b_black, b_red, b_blue, b_magenta, b_green, b_navy])
style(ax_b, (1676, 2149), (-3.0, 4.53), 100, 50, 2, 1)
plot_spec(ax_d, xd, [d_black, d_red, d_blue, d_magenta, d_green, d_navy],
          lws=[1.3, 1.3, 1.3, 1.3, 1.3, 2.6])
style(ax_d, (1474, 1751), (-9.0, 18.1), 100, 50, 10, 5)
plot_spec(ax_e, xe, [e_black, e_red, e_blue, e_magenta, e_green, e_navy])
style(ax_e, (1676, 2149), (-8.7, 27.2), 100, 50, 10, 5)
plot_spec(ax_g, xg, [g_black, g_red, g_blue, g_magenta, g_green, g_navy])
style(ax_g, (1474, 1751), (-5.0, 9.7), 100, 50, 5, 2.5)
plot_spec(ax_h, xh, [h_black, h_red, h_blue, h_magenta, h_green, h_navy])
style(ax_h, (1676, 2149), (-5.0, 14.0), 100, 50, 5, 2.5)

# ---- kinetics ----
def plot_kin(ax, t, series, tfit, fits):
    markers = ['s', 'o', '^', 'v']
    colors = [BLACK, K_RED, K_GREEN, K_BLUE]
    for y, yf, m, c in zip(series, fits, markers, colors):
        ax.plot(tfit, yf, color=c, lw=1.8, zorder=3)
        ax.plot(t, y, ls='none', marker=m, ms=5.5, color=c, zorder=4)


kin_kw = dict(labelsize=13.5, pad=1, majlen=5)
plot_kin(ax_c, tc, [c_black, c_red, c_green, c_blue], tc_fit,
         [cf_black, cf_red, cf_green, cf_blue])
style(ax_c, (-20, 1560), (-0.37, 6.62), 500, 250, 5, 2.5, **kin_kw)
plot_kin(ax_f1, tf, [f_black, f_red, f_green, f_blue], tf_fit,
         [ff_black, ff_red, ff_green, ff_blue])
style(ax_f1, (-5.0, 98.4), (-0.8, 14.9), 50, 25, 5, 2.5, right=False, **kin_kw)
plot_kin(ax_f2, tf_long, [fl_black, fl_red, fl_green, fl_blue], tf_long_fit,
         [flf_black, flf_red, flf_green, flf_blue])
style(ax_f2, (270, 3106), (-0.8, 14.9), 1000, 500, 5, 2.5, left=False, **kin_kw)
plot_kin(ax_i, ti, [i_black, i_red, i_green, i_blue], ti_fit,
         [if_black, if_red, if_green, if_blue])
style(ax_i, (-10, 307), (-1.07, 13.5), 100, 50, 5, 2.5, **kin_kw)

# ---- panel letters ----
panel_label(ax_a, '(a)', 0.968, 0.894)
panel_label(ax_b, '(b)', 0.985, 0.885)
panel_label(ax_d, '(d)', 0.958, 0.865)
panel_label(ax_e, '(e)', 0.983, 0.87)
panel_label(ax_g, '(g)', 0.958, 0.877)
panel_label(ax_h, '(h)', 0.97, 0.873)
panel_label(ax_c, '(c)', 0.948, 0.876)
panel_label(ax_f2, '(f)', 0.932, 0.847)
panel_label(ax_i, '(i)', 0.963, 0.847)

# ---- arrows & annotations inside panels ----
arrow(ax_a, 1634, 6.14, 3.77, thick=False)
arrow(ax_a, 1599, -1.67, 0.33)
arrow(ax_a, 1639, -2.37, -0.37)
arrow(ax_a, 1562, 0.42, -1.67)
ax_a.text(1561.6, -3.12, r'ν(NAP$_{\rm ring}$)', ha='center', va='center', fontsize=16)
ax_a.text(1698, -3.16, 'ν(CO)', ha='center', va='center', fontsize=16)

arrow(ax_b, 1966, -1.39, 0.89)
arrow(ax_b, 2005, 0.1, -1.55, thick=False)
ax_b.text(1753, -2.21, 'ν(CO)', ha='center', va='center', fontsize=16)
ax_b.text(2040, -2.21, 'ν(CC)', ha='center', va='center', fontsize=16)

arrow(ax_d, 1633, 14.7, 7.0, thick=False)
ax_d.annotate('', xy=(1547.3, -5.8), xytext=(1566, -1.07),
              arrowprops=dict(arrowstyle='-|>,head_length=0.65,head_width=0.32',
                              connectionstyle='angle3,angleA=180,angleB=90',
                              lw=2.0, color='k', mutation_scale=20, shrinkA=0, shrinkB=0),
              zorder=6)

arrow(ax_e, 1860, 15.0, -6.0, thick=False)

arrow(ax_g, 1630.4, 8.86, 5.76, thick=False)
arrow(ax_g, 1594.6, -2.63, 1.44)
arrow(ax_g, 1640.2, -2.82, 1.57)
ax_g.text(1651, 8.15, 'CT', ha='center', va='center', fontsize=17)
ax_g.text(1607, -3.6, r'$^{3}$NAP', ha='center', va='center', fontsize=18)

arrow(ax_h, 1854.2, 11.98, 7.8, thick=False)
arrow(ax_h, 1950.4, -1.36, 2.48)
ax_h.text(1813, 9.97, 'CT', ha='center', va='center', fontsize=17)
ax_h.text(1944, -2.45, r'$^{3}$NAP', ha='center', va='center', fontsize=17)

# ---- figure-level labels ----
for ypx, txt in [(136, 'NAP-Pt-Cl'), (403, 'NAP-Pt-PTZ'), (671, 'NAP-Pt-Ph')]:
    fig.text(58 / W, 1 - ypx / H, txt, ha='left', va='center', fontsize=19, zorder=5,
             bbox=dict(facecolor='white', edgecolor='none', pad=8))
for ypx in [237, 511, 767]:
    fig.text(128 / W, 1 - ypx / H, 'ΔAbs. (mOD)', rotation=90, ha='center',
             va='center', fontsize=13.5)
for xr in [367, 712]:
    fig.text(xr / W, 1 - 910 / H, 'Wavenumber', ha='right', va='baseline', fontsize=15)
    fig.text((xr + 2) / W, 1 - 910 / H, r'(cm$^{-1}$)', ha='left', va='baseline',
             fontsize=11)
fig.text(788 / W, 1 / H, 'Delay (ps)', ha='center', va='bottom', fontsize=12.5)

fig.text(309 / W, 1 - 27 / H, r'NAP$^{-}$', ha='center', va='center', fontsize=19)
fig.text(560 / W, 1 - 29 / H, r'$^{3}$NAP', ha='center', va='center', fontsize=19)


def fline(p0, p1, **kw):
    fig.add_artist(Line2D([p0[0] / W, p1[0] / W], [1 - p0[1] / H, 1 - p1[1] / H],
                          transform=fig.transFigure, color='k', lw=1.6, **kw))


fline((303, 40), (274, 83))
fline((303, 40), (328, 86))
fline((562, 45), (310, 157))
fline((562, 45), (358, 175))
fline((562, 45), (705, 127))

# break marks on the delay axis of (f)
for yb in [KT, KB]:
    for dx in [0, 5]:
        fline((465 + dx, yb + 6), (471 + dx, yb - 6), solid_capstyle='butt')

# vertical dashed guide lines with top markers
blend_l = mtransforms.blended_transform_factory(ax_a.transData, fig.transFigure)
blend_r = mtransforms.blended_transform_factory(ax_b.transData, fig.transFigure)
y_top, y_bot = 1 - 92 / H, 1 - 867 / H
for xv, col, tr, mk, yy in [(nap_anion_bands[0], K_RED, blend_l, 'o', 92),
                            (nap_anion_bands[1], BLACK, blend_l, 's', 93),
                            (triplet_bands[0], '#6cbf44', blend_r, '^', 89),
                            (triplet_bands[1], '#2a5fc8', blend_r, 'v', 90)]:
    fig.add_artist(Line2D([xv, xv], [y_top, y_bot], transform=tr, color=col, lw=2.3,
                          ls=(0, (3.6, 2.2)), zorder=4))
    mcol = '#1e78c8' if mk == 'v' else col
    fig.add_artist(Line2D([xv], [1 - yy / H], transform=tr, marker=mk, ms=10,
                          color=mcol, ls='none', zorder=5))

fig.savefig('out.png', dpi=100)
